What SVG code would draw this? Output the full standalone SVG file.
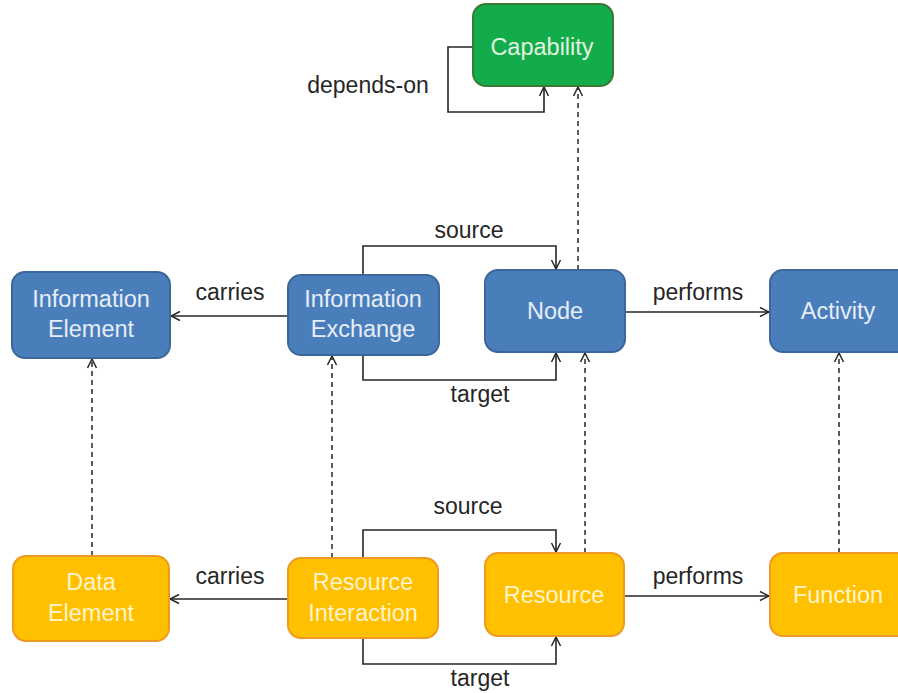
<svg xmlns="http://www.w3.org/2000/svg" width="898" height="693" viewBox="0 0 898 693">
<defs>
<marker id="arr" viewBox="0 0 12 12" refX="11" refY="6" markerWidth="12" markerHeight="12" markerUnits="userSpaceOnUse" orient="auto">
<path d="M2,1.5 L11,6 L2,10.5" fill="none" stroke="#262626" stroke-width="1.5"/>
</marker>
</defs>
<style>
.blue rect{fill:#4a7ebb;stroke:#3c679a;stroke-width:2}
.orange rect{fill:#ffc000;stroke:#ee9a22;stroke-width:2}
.green rect{fill:#12ad4a;stroke:#3b7a35;stroke-width:2}
.blue text{fill:#e6edf7}
.orange text{fill:#fff4cc}
.green text{fill:#e2f3e2}
text{font-family:"Liberation Sans",Arial,sans-serif;font-size:23.5px;text-anchor:middle}
.lbl{fill:#262626;font-size:23px}
.c{fill:none;stroke:#262626;stroke-width:1.6;marker-end:url(#arr)}
.d{fill:none;stroke:#262626;stroke-width:1.5;stroke-dasharray:5,4;marker-end:url(#arr)}
</style>
<rect width="898" height="693" fill="#ffffff"/>
<g id="connectors">
<path class="c" d="M475,47 H448 V112 H544 V87"/>
<path class="d" d="M578,270 V87"/>
<path class="c" d="M288,316 H171"/>
<path class="c" d="M363,275 V246 H556 V269"/>
<path class="c" d="M363,355 V380 H556 V353"/>
<path class="c" d="M625,312 H769"/>
<path class="c" d="M288,599 H170"/>
<path class="c" d="M363,558 V530 H556 V552"/>
<path class="c" d="M363,638 V664 H556 V637"/>
<path class="c" d="M624,596 H769"/>
<path class="d" d="M92,556 V359"/>
<path class="d" d="M332,558 V356"/>
<path class="d" d="M585,553 V353"/>
<path class="d" d="M839,553 V353"/>
<text class="lbl" x="368" y="93">depends-on</text>
<text class="lbl" x="230" y="300">carries</text>
<text class="lbl" x="469" y="238">source</text>
<text class="lbl" x="480" y="402">target</text>
<text class="lbl" x="698" y="300">performs</text>
<text class="lbl" x="230" y="584">carries</text>
<text class="lbl" x="468" y="514">source</text>
<text class="lbl" x="480" y="686">target</text>
<text class="lbl" x="698" y="584">performs</text>
</g>
<g id="capability" class="green"><rect x="473" y="4" width="140" height="82" rx="13"/><text x="542" y="55">Capability</text></g>
<g id="information-element" class="blue"><rect x="12" y="272" width="158" height="86" rx="13"/><text x="91" y="307">Information</text><text x="91" y="337">Element</text></g>
<g id="information-exchange" class="blue"><rect x="288" y="275" width="151" height="80" rx="13"/><text x="363" y="307">Information</text><text x="363" y="337">Exchange</text></g>
<g id="node" class="blue"><rect x="485" y="270" width="140" height="82" rx="13"/><text x="555" y="319">Node</text></g>
<g id="activity" class="blue"><rect x="770" y="270" width="140" height="82" rx="13"/><text x="838" y="319">Activity</text></g>
<g id="data-element" class="orange"><rect x="13" y="556" width="156" height="85" rx="13"/><text x="91" y="590">Data</text><text x="91" y="621">Element</text></g>
<g id="resource-interaction" class="orange"><rect x="288" y="558" width="150" height="80" rx="13"/><text x="363" y="590">Resource</text><text x="363" y="621">Interaction</text></g>
<g id="resource" class="orange"><rect x="485" y="553" width="139" height="83" rx="13"/><text x="554" y="603">Resource</text></g>
<g id="function" class="orange"><rect x="770" y="553" width="140" height="83" rx="13"/><text x="838" y="603">Function</text></g>
</svg>
